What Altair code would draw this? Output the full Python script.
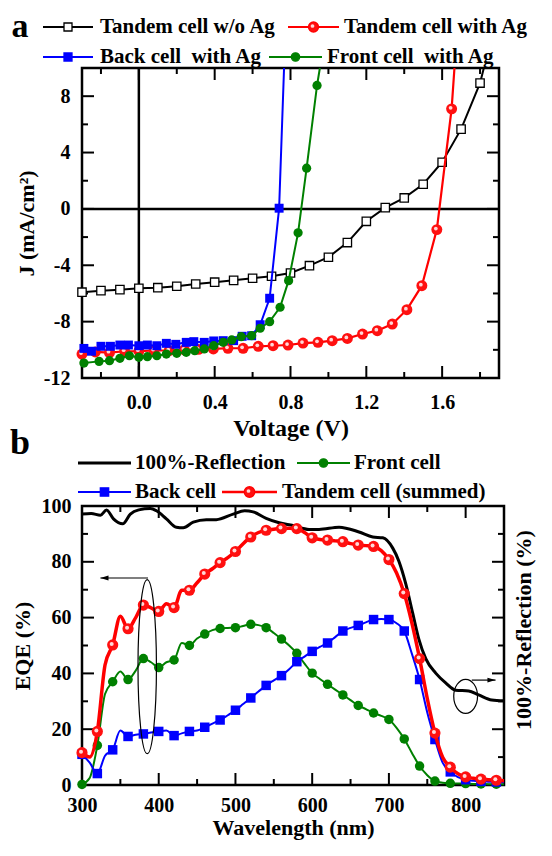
import altair as alt
import pandas as pd

FONT = "Liberation Serif"

# ---------------- Panel a : J-V curves ----------------
a_series = ["Tandem cell w/o Ag", "Tandem cell with Ag",
            "Back cell\u00a0 with Ag", "Front cell\u00a0 with Ag"]

noag_V = [-0.3, -0.2, -0.1, 0.0, 0.1, 0.2, 0.3, 0.4, 0.5, 0.6, 0.7, 0.8, 0.9,
          1.0, 1.1, 1.2, 1.3, 1.4, 1.5, 1.6, 1.7, 1.8, 1.82]
noag_J = [-5.91, -5.8, -5.73, -5.63, -5.59, -5.49, -5.33, -5.2, -5.07, -4.92,
          -4.78, -4.55, -4.03, -3.43, -2.39, -0.88, 0.09, 0.78, 1.75, 3.31,
          5.66, 8.93, 10.0]

withag_V = [-0.3, -0.23, -0.155, -0.075, 0.0, 0.08, 0.16, 0.24, 0.315, 0.393,
            0.47, 0.55, 0.63, 0.708, 0.787, 0.866, 0.945, 1.02, 1.10, 1.18,
            1.258, 1.337, 1.414, 1.493, 1.572, 1.65, 1.665]
withag_J = [-10.3, -10.15, -10.2, -10.1, -10.1, -10.05, -10.05, -10.0, -9.97,
            -9.94, -9.89, -9.89, -9.75, -9.71, -9.66, -9.52, -9.47, -9.35,
            -9.19, -8.88, -8.64, -8.17, -7.15, -5.45, -1.47, 7.1, 10.0]

back_V = [-0.29, -0.25, -0.2, -0.15, -0.1, -0.055, 0.0, 0.045, 0.095, 0.145,
          0.195, 0.25, 0.29, 0.345, 0.395, 0.445, 0.5, 0.545, 0.595, 0.64,
          0.69, 0.74, 0.766]
back_J = [-9.9, -10.1, -9.75, -9.75, -9.66, -9.66, -9.71, -9.66, -9.71, -9.54,
          -9.61, -9.47, -9.42, -9.47, -9.37, -9.35, -9.35, -9.04, -9.0, -8.22,
          -6.34, 0.05, 10.0]

front_V = [-0.29, -0.21, -0.155, -0.1, -0.05, 0.0, 0.045, 0.095, 0.145, 0.2,
           0.25, 0.295, 0.345, 0.395, 0.445, 0.49, 0.54, 0.595, 0.64, 0.69,
           0.745, 0.79, 0.84, 0.885, 0.94, 0.955]
front_J = [-10.94, -10.82, -10.77, -10.6, -10.42, -10.53, -10.49, -10.42,
           -10.3, -10.25, -10.18, -10.06, -9.94, -9.71, -9.47, -9.3, -9.07,
           -9.0, -8.47, -8.0, -6.98, -5.09, -1.7, 2.89, 8.76, 10.0]

a_x_domain = [-0.3, 1.9]
a_y_domain = [-12, 10]
a_x_labels = [0.0, 0.4, 0.8, 1.2, 1.6]
a_y_labels = [-12, -8, -4, 0, 4, 8]
a_x_major = [0.0, 0.4, 0.8, 1.2, 1.6]
a_x_minor = [-0.2, 0.2, 0.6, 1.0, 1.4, 1.8]
a_y_major = [-8, -4, 0, 4, 8]
a_y_minor = [-10, -6, -2, 2, 6]

# ---------------- Panel b : EQE ----------------
b_series = ["100%-Reflection", "Front cell", "Back cell", "Tandem cell (summed)"]

wl = [300, 310, 320, 330, 340, 350, 360, 370, 380, 390, 400, 410, 420, 430,
      440, 450, 460, 470, 480, 490, 500, 510, 520, 530, 540, 550, 560, 570,
      580, 590, 600, 610, 620, 630, 640, 650, 660, 670, 680, 690, 700, 710,
      720, 730, 740, 750, 760, 770, 780, 790, 800, 810, 820, 830, 840, 850]
tandem_eqe = [11.6, 10.0, 19.2, 43.0, 50.2, 60.5, 56.0, 60.0, 64.5, 63.5,
              62.2, 65.0, 63.6, 69.8, 69.8, 72.5, 75.6, 77.5, 79.7, 81.5,
              83.7, 86.5, 88.9, 90.5, 91.3, 91.7, 91.9, 92.0, 91.9, 90.5,
              88.6, 88.0, 87.8, 87.5, 87.2, 86.5, 86.0, 85.8, 85.5, 84.0,
              80.8, 76.0, 68.6, 58.0, 45.3, 31.0, 18.6, 10.0, 6.4, 4.0,
              2.9, 2.4, 2.1, 1.9, 1.7, 1.5]
front_eqe = [0.2, 2.5, 14.2, 32.6, 37.0, 40.7, 37.8, 41.0, 45.3, 44.0,
             42.1, 44.0, 44.8, 50.9, 50.0, 52.5, 54.1, 55.5, 56.1, 56.3,
             56.4, 57.0, 57.6, 57.3, 56.4, 54.5, 52.3, 50.0, 47.2, 43.5,
             40.1, 38.0, 36.1, 34.2, 32.3, 30.4, 28.5, 27.2, 25.8, 24.8,
             23.5, 20.5, 16.5, 11.5, 6.8, 3.5, 1.4, 0.8, 0.6, 0.5,
             0.5, 0.4, 0.4, 0.3, 0.3, 0.3]
back_eqe = [11.0, 8.0, 4.1, 10.5, 12.6, 19.5, 17.4, 18.0, 18.3, 18.8,
            19.2, 19.5, 17.7, 18.5, 19.2, 19.5, 20.7, 22.0, 23.3, 25.0,
            26.8, 29.0, 31.2, 33.5, 35.7, 37.5, 39.2, 41.5, 44.2, 46.0,
            47.9, 49.5, 50.9, 53.0, 55.2, 56.3, 57.2, 58.3, 59.3, 59.5,
            59.3, 58.0, 55.2, 47.0, 37.8, 26.0, 16.3, 8.0, 4.7, 2.8,
            1.9, 1.5, 1.3, 1.2, 1.1, 1.0]

refl_wl = [300, 312, 324, 332, 341, 353, 363, 374, 389, 397, 410, 423, 432,
           445, 462, 475, 497, 512, 523, 540, 557, 575, 596, 609, 635, 661,
           679, 692, 705, 713, 722, 731, 739, 748, 761, 774, 787, 804, 817,
           834, 850]
refl_val = [97.1, 97.3, 96.7, 98.6, 95.4, 93.6, 97.1, 98.6, 99.1, 98.3, 95.4,
            92.4, 92.2, 94.2, 95.1, 95.1, 97.1, 98.3, 97.9, 95.6, 94.0, 93.0,
            91.6, 91.6, 92.4, 90.7, 88.9, 88.6, 84.9, 80.2, 72.1, 61.6, 52.3,
            45.3, 40.1, 36.6, 34.0, 33.7, 32.3, 30.5, 30.2]

# annotation ellipses / arrows (data coordinates)
left_ellipse = {"L": [385], "E": [42.4]}
left_arrow = {"L": [386], "L2": [324], "E": [74.2]}
right_ellipse = {"L": [800], "E": [31.8]}
right_arrow = {"L": [808], "L2": [839], "E": [37.6]}

b_x_domain = [300, 850]
b_y_domain = [0, 100]
b_x_labels = [300, 400, 500, 600, 700, 800]
b_y_labels = [0, 20, 40, 60, 80, 100]
b_x_major = [400, 500, 600, 700, 800]
b_x_minor = [350, 450, 550, 650, 750]
b_y_major = [20, 40, 60, 80]
b_y_minor = [10, 30, 50, 70, 90]

# ---------------- helpers ----------------
LABEL_EXPR = "replace(datum.label, '\u2212', '-')"


def enc_xy(xf, yf, xdom, ydom, xvals, yvals, xfmt, yfmt, xtitle, ytitle,
           ylp, ytp, xlp, xtp, xts):
    x = alt.X(f"{xf}:Q", scale=alt.Scale(domain=xdom, nice=False, zero=False),
              axis=alt.Axis(values=xvals, format=xfmt, title=xtitle,
                            labelExpr=LABEL_EXPR, labelPadding=xlp,
                            titlePadding=xtp, titleFontSize=xts,
                            labelFlush=False))
    y = alt.Y(f"{yf}:Q", scale=alt.Scale(domain=ydom, nice=False, zero=False),
              axis=alt.Axis(values=yvals, format=yfmt, title=ytitle,
                            labelExpr=LABEL_EXPR, labelPadding=ylp,
                            titlePadding=ytp, labelFlush=False))
    return x, y


def tick_layers(x, y, xf, yf, xmaj, xmin, ymaj, ymin, W, H, lmaj, lmin):
    out = []
    for vals, L in ((xmaj, lmaj), (xmin, lmin)):
        base = alt.Chart(pd.DataFrame({xf: vals})).mark_rule(color="black", strokeWidth=2)
        out.append(base.encode(x=x, y=alt.value(0), y2=alt.value(L)))
        out.append(base.encode(x=x, y=alt.value(H), y2=alt.value(H - L)))
    for vals, L in ((ymaj, lmaj), (ymin, lmin)):
        base = alt.Chart(pd.DataFrame({yf: vals})).mark_rule(color="black", strokeWidth=2)
        out.append(base.encode(y=y, x=alt.value(0), x2=alt.value(L)))
        out.append(base.encode(y=y, x=alt.value(W), x2=alt.value(W - L)))
    return out


def legend_entry(name, x0, x1, y, tx, color, lw, shape=None, msize=0,
                 fill=None, highlight=False):
    df = pd.DataFrame({"n": [name]})
    out = [alt.Chart(df).mark_rule(color=color, strokeWidth=lw).encode(
        x=alt.value(x0), x2=alt.value(x1), y=alt.value(y))]
    if shape:
        out.append(alt.Chart(df).mark_point(
            shape=shape, size=msize, filled=True, fill=fill or color,
            stroke=color, strokeWidth=1.3, opacity=1).encode(
            x=alt.value((x0 + x1) / 2), y=alt.value(y)))
        if highlight:
            out.append(alt.Chart(df).mark_point(
                shape="circle", size=14, filled=True, color="#ffd8d8",
                opacity=1).encode(x=alt.value((x0 + x1) / 2 - 1),
                                  y=alt.value(y - 1)))
    out.append(alt.Chart(df).mark_text(
        font=FONT, fontSize=21, fontWeight="bold", color="black",
        align="left", baseline="middle").encode(
        text="n:N", x=alt.value(tx), y=alt.value(y)))
    return out


def label_text(txt, x, y, size, angle=0, baseline="alphabetic"):
    return alt.Chart(pd.DataFrame({"t": [txt]})).mark_text(
        font=FONT, fontSize=size, fontWeight="bold", color="black",
        align="center", baseline=baseline, angle=angle).encode(
        text="t:N", x=alt.value(x), y=alt.value(y))


# ---------------- Panel a ----------------
WA, HA = 417, 310
xa, ya = enc_xy("V", "J", a_x_domain, a_y_domain, a_x_labels, a_y_labels,
                ".1f", "d", "Voltage (V)", "J (mA/cm\u00b2)", 12, 5, 14, 4, 24)

df_noag = pd.DataFrame({"V": noag_V, "J": noag_J})
df_withag = pd.DataFrame({"V": withag_V, "J": withag_J})
df_back = pd.DataFrame({"V": back_V, "J": back_J})
df_front = pd.DataFrame({"V": front_V, "J": front_J})

MARK = "datum.J < 9.99"
layers_a = []
layers_a.append(alt.Chart(pd.DataFrame({"V": [0.0]})).mark_rule(color="black", strokeWidth=2.5).encode(x=xa))
layers_a.append(alt.Chart(pd.DataFrame({"J": [0.0]})).mark_rule(color="black", strokeWidth=2.5).encode(y=ya))
layers_a += tick_layers(xa, ya, "V", "J", a_x_major, a_x_minor, a_y_major, a_y_minor, WA, HA, 12, 6)

layers_a.append(alt.Chart(df_noag).mark_line(color="black", strokeWidth=2).encode(x=xa, y=ya))
layers_a.append(alt.Chart(df_noag).transform_filter(MARK).mark_point(
    shape="square", size=70, filled=True, fill="white", stroke="black", strokeWidth=1.3, opacity=1).encode(x=xa, y=ya))

layers_a.append(alt.Chart(df_withag).mark_line(color="#ff0000", strokeWidth=2.2).encode(x=xa, y=ya))
layers_a.append(alt.Chart(df_withag).transform_filter(MARK).mark_point(
    shape="circle", size=120, filled=True, color="#ff1010", opacity=1).encode(x=xa, y=ya))
layers_a.append(alt.Chart(df_withag).transform_filter(MARK).mark_point(
    shape="circle", size=14, filled=True, color="#ffd8d8", opacity=1).encode(
    x=xa, y=ya, xOffset=alt.value(-1), yOffset=alt.value(-1)))

layers_a.append(alt.Chart(df_back).mark_line(color="#0000ff", strokeWidth=2).encode(x=xa, y=ya))
layers_a.append(alt.Chart(df_back).transform_filter(MARK).mark_point(
    shape="square", size=80, filled=True, color="#0000ff", opacity=1).encode(x=xa, y=ya))

layers_a.append(alt.Chart(df_front).mark_line(color="#008000", strokeWidth=2).encode(x=xa, y=ya))
layers_a.append(alt.Chart(df_front).transform_filter(MARK).mark_point(
    shape="circle", size=85, filled=True, color="#008000", opacity=1).encode(x=xa, y=ya))

# legend (layout: symbol x0, x1, row y, label x)
layers_a += legend_entry(a_series[0], -39, 11, -41, 18, "black", 2, "square", 64, "white")
layers_a += legend_entry(a_series[1], 206, 257, -41, 262, "#ff0000", 2, "circle", 100, "#ff1010", True)
layers_a += legend_entry(a_series[2], -39, 11, -11, 18, "#0000ff", 2, "square", 64)
layers_a += legend_entry(a_series[3], 187, 240, -11, 245, "#008000", 2, "circle", 70)
layers_a.append(label_text("a", -62, -31, 34))

panel_a = alt.layer(*layers_a).properties(width=WA, height=HA)

# ---------------- Panel b ----------------
WB, HB = 422, 279
xb, yb = enc_xy("L", "E", b_x_domain, b_y_domain, b_x_labels, b_y_labels,
                "d", "d", "Wavelength (nm)", "EQE (%)", 11, 7, 10, 2, 22)

df_eqe = pd.DataFrame({"L": wl, "T": tandem_eqe, "F": front_eqe, "B": back_eqe})
df_refl = pd.DataFrame({"L": refl_wl, "E": refl_val})
MARKB = "datum.L % 20 == 0"

layers_b = []
layers_b += tick_layers(xb, yb, "L", "E", b_x_major, b_x_minor, b_y_major, b_y_minor, WB, HB, 12, 6)

layers_b.append(alt.Chart(df_refl).mark_line(color="black", strokeWidth=3, interpolate="monotone").encode(x=xb, y=yb))

df_f = df_eqe[["L", "F"]].rename(columns={"F": "E"})
df_b = df_eqe[["L", "B"]].rename(columns={"B": "E"})
df_t = df_eqe[["L", "T"]].rename(columns={"T": "E"})

layers_b.append(alt.Chart(df_f).mark_line(color="#008000", strokeWidth=2, interpolate="monotone").encode(x=xb, y=yb))
layers_b.append(alt.Chart(df_f).transform_filter(MARKB).mark_point(
    shape="circle", size=90, filled=True, color="#008000", opacity=1).encode(x=xb, y=yb))

layers_b.append(alt.Chart(df_b).mark_line(color="#0000ff", strokeWidth=2, interpolate="monotone").encode(x=xb, y=yb))
layers_b.append(alt.Chart(df_b).transform_filter(MARKB).mark_point(
    shape="square", size=90, filled=True, color="#0000ff", opacity=1).encode(x=xb, y=yb))

layers_b.append(alt.Chart(df_t).mark_line(color="#ff0000", strokeWidth=3.5, interpolate="monotone").encode(x=xb, y=yb))
layers_b.append(alt.Chart(df_t).transform_filter(MARKB).mark_point(
    shape="circle", size=125, filled=True, color="#ff1010", opacity=1).encode(x=xb, y=yb))
layers_b.append(alt.Chart(df_t).transform_filter(MARKB).mark_point(
    shape="circle", size=16, filled=True, color="#ffd8d8", opacity=1).encode(
    x=xb, y=yb, xOffset=alt.value(-1), yOffset=alt.value(-1)))

# annotations
ell_left = "M0,-1A0.106,1 0 1,1 0,1A0.106,1 0 1,1 0,-1Z"
ell_right = "M0,-1A0.7,1 0 1,1 0,1A0.7,1 0 1,1 0,-1Z"
layers_b.append(alt.Chart(pd.DataFrame(left_ellipse)).mark_point(
    shape=ell_left, size=174 * 174, filled=False, color="black", strokeWidth=1.2, opacity=1).encode(x=xb, y=yb))
layers_b.append(alt.Chart(pd.DataFrame(right_ellipse)).mark_point(
    shape=ell_right, size=34 * 34, filled=False, color="black", strokeWidth=1.2, opacity=1).encode(x=xb, y=yb))
layers_b.append(alt.Chart(pd.DataFrame(left_arrow)).mark_rule(color="black", strokeWidth=1.2).encode(
    x=xb, x2="L2:Q", y=yb))
layers_b.append(alt.Chart(pd.DataFrame(right_arrow)).mark_rule(color="black", strokeWidth=1.2).encode(
    x=xb, x2="L2:Q", y=yb))
head_left = "M0,0L2.7,-0.8L2.7,0.8Z"
head_right = "M0,0L-2.7,-0.8L-2.7,0.8Z"
layers_b.append(alt.Chart(pd.DataFrame({"L": left_arrow["L2"], "E": left_arrow["E"]})).mark_point(
    shape=head_left, size=36, filled=True, color="black", opacity=1).encode(x=xb, y=yb))
layers_b.append(alt.Chart(pd.DataFrame({"L": right_arrow["L2"], "E": right_arrow["E"]})).mark_point(
    shape=head_right, size=36, filled=True, color="black", opacity=1).encode(x=xb, y=yb))

layers_b += legend_entry(b_series[0], -4, 49, -43, 53, "black", 3)
layers_b += legend_entry(b_series[1], 215, 268, -43, 272, "#008000", 2, "circle", 70)
layers_b += legend_entry(b_series[2], -4, 49, -14, 53, "#0000ff", 2, "square", 70)
layers_b += legend_entry(b_series[3], 140, 195, -14, 200, "#ff0000", 2.5, "circle", 110, "#ff1010", True)
layers_b.append(label_text("b", -62, -52, 36))
layers_b.append(label_text("100%-Reflection (%)", WB + 20, 124, 22, angle=270, baseline="middle"))

panel_b = alt.layer(*layers_b).properties(width=WB, height=HB)

chart = alt.vconcat(panel_a, panel_b, spacing=128, bounds="flush").resolve_scale(
    x="independent", y="independent").configure_view(
    stroke="black", strokeWidth=2.5).configure_axis(
    labelFont=FONT, labelFontSize=20, labelFontWeight="bold", labelColor="black",
    titleFont=FONT, titleFontSize=22, titleFontWeight="bold", titleColor="black",
    ticks=False, domain=False, grid=False).properties(
    padding={"left": 0, "top": 0, "right": 0, "bottom": 0})

chart.save("out.html", embed_options={"renderer": "svg", "actions": False})
